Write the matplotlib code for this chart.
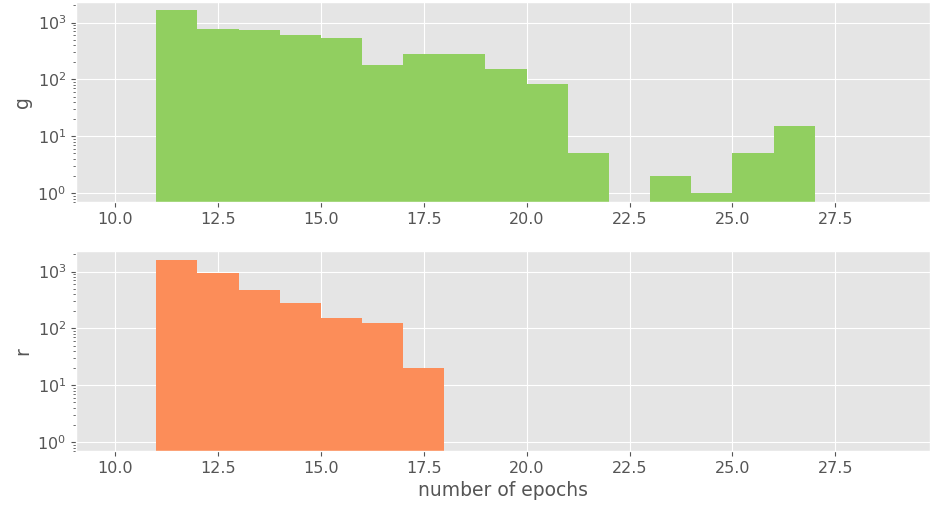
import matplotlib
matplotlib.use("Agg")
import matplotlib.pyplot as plt
import numpy as np

plt.style.use("ggplot")

# bin edges (epochs) and counts
g_edges = list(range(11, 28))
g_counts = [1670, 760, 730, 615, 530, 178, 280, 280, 155, 82, 5, 0, 2, 1, 5, 15]
r_edges = list(range(11, 19))
r_counts = [1600, 960, 465, 280, 155, 124, 20]

x_ticks = [10.0, 12.5, 15.0, 17.5, 20.0, 22.5, 25.0, 27.5]

fig = plt.figure(figsize=(9.3, 5.12), dpi=100)
ax1 = fig.add_axes([0.0817, 0.6055, 0.9183, 0.3905])
ax2 = fig.add_axes([0.0817, 0.119, 0.9183, 0.3908])

ax1.hist(g_edges[:-1], bins=g_edges, weights=g_counts, log=True, color="#91cf60")
ax2.hist(r_edges[:-1], bins=r_edges, weights=r_counts, log=True, color="#fc8d59")

for ax, lab in [(ax1, "g"), (ax2, "r")]:
    ax.set_xlim(9.05, 29.8)
    ax.set_ylim(0.7, 2300)
    ax.set_xticks(x_ticks)
    ax.set_ylabel(lab, fontsize=13.5, color="#555555")
    ax.tick_params(labelsize=11.5)

ax2.set_xlabel("number of epochs", fontsize=13.5, color="#555555")

fig.savefig("out.png", dpi=100)
